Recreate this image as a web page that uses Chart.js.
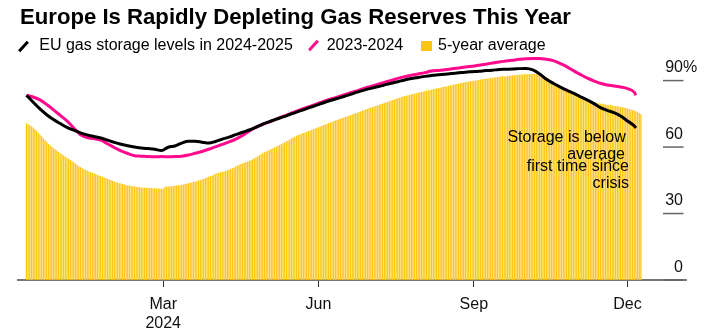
<!DOCTYPE html>
<html>
<head>
<meta charset="utf-8">
<script src="https://cdn.jsdelivr.net/npm/chart.js@4.4.0/dist/chart.umd.min.js"></script>
<style>
  html, body { margin:0; padding:0; background:#fff; }
  #wrap { position:relative; width:709px; height:335px; overflow:hidden; font-family:"Liberation Sans", Arial, sans-serif; color:#000; }
  #c { position:absolute; left:0; top:0; }
  .t { position:absolute; white-space:nowrap; line-height:1; }
  #title { left:20px; top:6.4px; font-size:22px; font-weight:bold; transform-origin:0 0; }
  .lg { font-size:16px; top:36.5px; }
  .ann { font-size:16px; text-align:right; }
  .slash { position:absolute; width:3px; height:13px; transform:rotate(42deg); }
</style>
</head>
<body>
<div id="wrap">
  <canvas id="c" width="709" height="346"></canvas>
  <div class="t" id="title">Europe Is Rapidly Depleting Gas Reserves This Year</div>
  <div class="slash" style="left:21.5px; top:39.7px; background:#000;"></div>
  <div class="t lg" style="left:39.3px;">EU gas storage levels in 2024-2025</div>
  <div class="slash" style="left:312px; top:38.8px; background:#ff0a8c;"></div>
  <div class="t lg" style="left:326.7px;">2023-2024</div>
  <div style="position:absolute; left:421px; top:41px; width:11px; height:10px; background:#fdc614;"></div>
  <div class="t lg" style="left:438px;">5-year average</div>
  <div class="t ann" style="right:83.3px; top:129px;">Storage is below</div>
  <div class="t ann" style="right:84px; top:145.5px;">average</div>
  <div class="t ann" style="right:80px; top:158.2px;">first time since</div>
  <div class="t ann" style="right:80px; top:174.8px;">crisis</div>
</div>
<script>
// Day index 0 = 2023-12-11 (one bar per day)
const startDate = '2023-12-11';

// 5-year average storage, % full, one value per day
const avg5yr = [
70.7,70.3,69.9,69.4,68.8,68.1,67.3,66.5,65.7,64.9,64.0,63.2,62.4,61.5,60.7,
60.1,59.5,59.0,58.4,57.8,57.2,56.7,56.2,55.7,55.2,
54.7,54.2,53.6,53.1,52.5,52.0,51.5,51.0,50.5,50.1,
49.7,49.4,49.0,48.7,48.4,48.1,47.8,47.5,47.2,46.9,
46.6,46.3,46.0,45.7,45.4,45.1,44.8,44.5,44.2,43.9,
43.7,43.5,43.3,43.1,42.9,42.7,42.6,42.4,42.3,42.2,
42.1,42.0,41.9,41.8,41.7,41.7,41.6,41.6,41.5,41.5,
41.4,41.4,41.3,41.3,41.3,41.2,41.2,
42.1,42.2,42.2,42.3,42.3,42.4,42.5,42.6,42.7,42.8,43.0,43.1,
43.3,43.5,43.7,43.9,44.1,44.3,44.5,44.7,44.9,45.1,
45.4,45.7,46.0,46.3,46.6,46.9,47.2,47.5,47.9,48.2,
48.4,48.6,48.8,49.0,49.3,49.5,49.8,50.1,
50.4,50.8,51.2,51.6,52.0,52.3,
52.6,52.9,53.2,53.5,53.8,54.1,
54.5,55.0,55.4,55.9,56.3,56.8,57.2,
57.6,58.0,58.3,58.7,59.1,59.5,59.8,60.2,60.6,60.9,
61.3,61.7,62.2,62.6,63.0,63.4,63.9,64.3,64.7,65.1,
65.4,65.7,66.0,66.3,66.6,66.9,67.2,67.5,67.8,68.1,68.4,68.7,69.0,69.3,69.6,69.9,70.2,70.5,70.8,71.1,
71.4,71.7,72.0,72.2,72.5,72.8,73.1,73.3,73.6,73.9,74.2,74.4,74.7,75.0,75.3,75.5,75.8,76.1,76.4,76.7,
77.0,77.2,77.5,77.8,78.0,78.3,78.6,78.8,79.1,79.4,79.6,79.9,80.2,80.4,80.7,81.0,81.2,81.5,81.8,82.0,
82.3,82.5,82.8,83.0,83.2,83.4,83.6,83.8,84.0,84.2,84.3,84.5,84.7,84.9,85.1,85.3,85.4,85.6,85.7,85.9,
86.1,86.3,86.4,86.6,86.8,87.0,87.1,87.3,87.5,87.6,87.8,88.0,88.1,88.3,88.5,88.6,88.8,89.0,89.1,89.3,
89.4,89.6,89.7,89.8,90.0,90.1,90.2,90.3,90.5,90.6,90.7,90.8,90.9,91.1,91.2,91.3,91.4,91.5,91.6,91.7,
91.8,91.9,92.0,92.0,92.1,92.2,92.3,92.4,92.4,92.5,92.6,92.6,92.7,92.8,92.8,92.9,92.9,93.0,93.0,93.0,
93.0,92.9,92.8,92.7,92.5,92.2,91.9,91.5,91.0,90.5,90.0,89.5,89.0,88.5,88.0,87.5,87.0,86.5,86.0,85.5,
85.1,84.7,84.3,83.9,83.5,83.2,82.8,82.5,82.1,81.8,81.6,81.3,81.1,80.8,80.6,80.4,80.2,80.0,79.8,79.6,
79.5,79.4,79.2,79.1,79.0,78.9,78.8,78.6,78.5,78.4,78.3,78.1,78.0,77.8,77.6,77.4,77.2,77.0,76.8,76.5,76.2,75.9,75.4,74.8
];

// Sample days (index from startDate) for the two storage lines
const lineDays = [
0,4,8,12,16,20,24,28,32,36,40,44,48,52,56,60,64,68,72,76,80,84,88,92,96,100,
104,108,112,116,120,124,128,132,136,140,144,148,152,156,160,164,168,172,176,180,
184,188,192,196,200,204,208,212,216,220,224,228,232,236,240,244,248,252,256,260,
264,268,272,276,280,284,288,292,296,300,304,308,312,316,320,324,328,332,336,340,
344,348,352,356,360,361
];

// EU gas storage levels 2024-2025, %
const storage2425 = [
83.4,80.2,77.2,74.6,72.4,70.6,68.9,67.6,66.4,65.5,
64.8,64.1,63.1,62.1,61.3,60.6,60.0,59.6,59.3,59.0,
58.4,59.9,60.5,61.8,62.6,62.6,62.2,61.8,62.5,63.6,
64.5,65.6,66.7,67.7,69.0,70.4,71.5,72.6,73.6,74.7,
75.8,76.8,77.9,78.9,80.0,81.0,81.9,82.8,83.8,84.8,
85.7,86.5,87.2,88.0,88.8,89.5,90.3,90.9,91.4,91.9,
92.3,92.6,92.9,93.2,93.5,93.8,94.0,94.2,94.5,94.7,
95.0,95.1,95.2,95.4,95.5,94.8,93.0,90.6,88.8,87.2,
85.7,84.3,82.8,81.3,79.7,77.8,76.6,75.5,74.0,71.8,
69.6,68.6
];

// Storage levels 2023-2024, %
const storage2324 = [
83.4,82.6,81.3,79.2,76.8,74.3,71.8,68.6,65.6,64.3,
63.8,63.1,61.5,59.8,58.3,57.1,56.1,55.9,55.7,55.6,
55.7,55.6,55.7,55.9,56.4,57.2,58.0,59.0,60.1,61.2,
62.3,63.6,65.2,67.3,68.9,70.3,71.4,72.6,73.8,75.0,
76.2,77.3,78.4,79.5,80.6,81.6,82.5,83.5,84.5,85.5,
86.5,87.4,88.3,89.2,90.1,91.0,91.8,92.4,93.0,93.6,
94.3,94.6,94.9,95.3,95.7,96.1,96.5,96.9,97.4,97.9,
98.4,98.8,99.2,99.6,99.9,100.0,100.0,99.6,99.0,97.8,
96.3,94.5,92.8,91.2,89.9,88.8,88.0,87.6,87.1,86.4,
84.8,83.4
];

// X tick positions (day index of 1 Mar, 1 Jun, 1 Sep, 1 Dec 2024) and labels
const xTickDays = [81, 173, 265, 356];
const xTickLabels = [['Mar', '2024'], 'Jun', 'Sep', 'Dec'];

// Y ticks
const yTickValues = [0, 30, 60, 90];
const yTickLabels = ['0', '30', '60', '90'];

const FONT = '"Liberation Sans", Arial, sans-serif';

const yLabelsPlugin = {
  id: 'yLabels',
  afterDraw(chart) {
    const ctx = chart.ctx;
    const y = chart.scales.y;
    ctx.save();
    yTickValues.forEach((v, k) => {
      const py = y.getPixelForValue(v);
      ctx.strokeStyle = '#666';
      ctx.lineWidth = 1.5;
      ctx.beginPath();
      ctx.moveTo(663, py);
      ctx.lineTo(683.5, py);
      ctx.stroke();
      ctx.fillStyle = '#111';
      ctx.font = '16px ' + FONT;
      ctx.textBaseline = 'alphabetic';
      ctx.textAlign = 'right';
      ctx.fillText(yTickLabels[k], 683, py - 8.5);
      if (k === yTickValues.length - 1) {
        ctx.textAlign = 'left';
        ctx.fillText('%', 683, py - 8.5);
      }
    });
    ctx.restore();
  }
};

new Chart(document.getElementById('c'), {
  type: 'bar',
  data: {
    datasets: [
      {
        type: 'line',
        label: 'EU gas storage levels in 2024-2025',
        data: lineDays.map((d, k) => ({ x: d, y: storage2425[k] })),
        borderColor: '#000',
        borderWidth: 3,
        pointRadius: 0,
        tension: 0.3,
        cubicInterpolationMode: 'monotone',
        order: 1,
        clip: false
      },
      {
        type: 'line',
        label: '2023-2024',
        data: lineDays.map((d, k) => ({ x: d, y: storage2324[k] })),
        borderColor: '#ff0a8c',
        borderWidth: 3,
        pointRadius: 0,
        tension: 0.3,
        cubicInterpolationMode: 'monotone',
        order: 2,
        clip: false
      },
      {
        type: 'bar',
        label: '5-year average',
        data: avg5yr.map((v, i) => ({ x: i, y: v })),
        backgroundColor: '#fdc614',
        borderWidth: 0,
        categoryPercentage: 1,
        barPercentage: 0.78,
        order: 3
      }
    ]
  },
  options: {
    responsive: false,
    animation: false,
    events: [],
    layout: { padding: { left: 18, right: 23, top: 54, bottom: 4.6 } },
    plugins: { legend: { display: false }, tooltip: { enabled: false }, title: { display: false } },
    scales: {
      x: {
        type: 'linear',
        min: -5,
        max: 390.7,
        offset: false,
        afterBuildTicks: (scale) => { scale.ticks = xTickDays.map(v => ({ value: v })); },
        ticks: {
          autoSkip: false,
          maxRotation: 0,
          padding: 8,
          color: '#111',
          font: { family: FONT, size: 16 },
          callback: (value) => xTickLabels[xTickDays.indexOf(value)]
        },
        grid: { offset: false, drawOnChartArea: false, drawTicks: true, tickLength: 7, color: '#333', lineWidth: 1 },
        border: { display: true, color: '#777', width: 2 }
      },
      y: {
        display: false,
        min: 0,
        max: 102
      }
    }
  },
  plugins: [yLabelsPlugin]
});

// fit the title to the reference width
const title = document.getElementById('title');
const w = title.getBoundingClientRect().width;
title.style.transform = 'scaleX(' + (551 / w) + ')';
</script>
</body>
</html>
